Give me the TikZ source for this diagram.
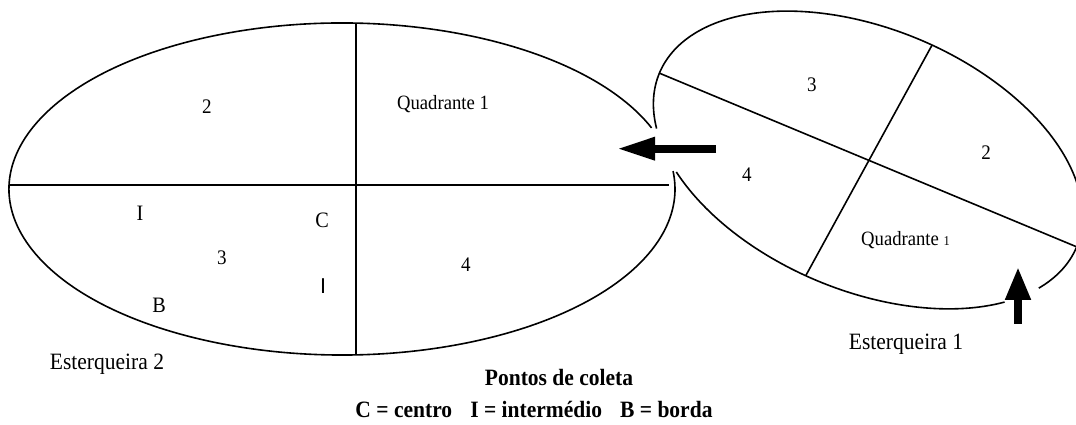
\documentclass[tikz,border=0pt]{standalone}
\usepackage{fontspec}
\setmainfont{Liberation Serif}[FakeStretch=0.92]
\newfontfamily\sansI{Liberation Sans}
\usetikzlibrary{arrows.meta}
\newcommand{\fsz}[1]{\fontsize{#1}{#1}\selectfont}
\begin{document}
\begin{tikzpicture}[x=1pt,y=1pt,
  outline/.style={line width=1.6pt},
  divline/.style={line width=1.6pt},
  lbl/.style={anchor=base,inner sep=0pt,outer sep=0pt},
  num/.style={lbl,font=\fsz{20.7}},
  pt/.style={lbl,font=\fsz{22}},
  quad/.style={lbl,font=\fsz{20.3}},
  title/.style={lbl,font=\fsz{23.4}},
  bold/.style={lbl,font=\bfseries\fsz{23.4}},
  fatarrow/.style={line width=7.7pt}]
\useasboundingbox (0,0) rectangle (1076,425);

% ---------- Esterqueira 2 (left) ----------
\coordinate (L) at (342,236);
\draw[outline] (L) ++(21.6:333 and 166)
  arc[start angle=21.6, end angle=366.2, x radius=333, y radius=166];
\coordinate (H1) at (9.1,240);
\coordinate (H2) at (669,240);
\coordinate (V1) at (356,401.8);
\coordinate (V2) at (356,70.2);
\draw[divline] (H1) -- (H2);
\draw[divline] (V1) -- (V2);

\node[num]  (l2) at (207,311) {2};
\node[quad] (lq) at (443,315) {Quadrante 1};
\node[pt]   (lI) at (140,204.3) {I};
\node[pt]   (lC) at (322,197.5) {C};
\node[num]  (l3) at (222,160.7) {3};
\node[pt,font=\sansI\fsz{21.5}] (lI2) at (323,131) {I};
\node[pt]   (lB) at (159,112.7) {B};
\node[num]  (l4) at (466,153.3) {4};
\node[title] (e2) at (107,55.7) {Esterqueira 2};

% ---------- Esterqueira 1 (right, tilted) ----------
\begin{scope}[shift={(868,265)},rotate=-22.6]
  \coordinate (R) at (0,0);
  \draw[outline] (220.3:226 and 131)
    arc[start angle=220.3, end angle=323.1, x radius=226, y radius=131];
  \draw[outline] (336.3:226 and 131)
    arc[start angle=336.3, end angle=563.5, x radius=226, y radius=131];
  \coordinate (M1) at (180:226 and 131);
  \coordinate (M2) at (0:226 and 131);
  \coordinate (N1) at (86.2:226 and 131);
  \coordinate (N2) at (266.7:226 and 131);
\end{scope}
\draw[divline] (M1) -- (M2);
\draw[divline] (N1) -- (N2);

\node[num] (r3) at (812,333.3) {3};
\node[num] (r2) at (986,265.7) {2};
\node[num] (r4) at (747,243.3) {4};
\node[quad] (rq) at (905.5,179) {Quadrante {\fsz{13.5}1}};
\node[title] (e1) at (906,75.7) {Esterqueira 1};

% ---------- arrows ----------
\coordinate (A1s) at (716,276.3);
\coordinate (A1t) at (617,276.3);
\draw[fatarrow,-{Triangle[length=38pt,width=21.5pt]}] (A1s) -- (A1t);
\coordinate (A2s) at (1018,101);
\coordinate (A2t) at (1018,158);
\draw[fatarrow,-{Triangle[length=33pt,width=24pt]}] (A2s) -- (A2t);

% ---------- legend ----------
\node[bold] (pc) at (559,39) {Pontos de coleta};
\node[bold] (leg) at (534,7) {C = centro\hspace{18pt}I = intermédio\hspace{18pt}B = borda};
\end{tikzpicture}
\end{document}
